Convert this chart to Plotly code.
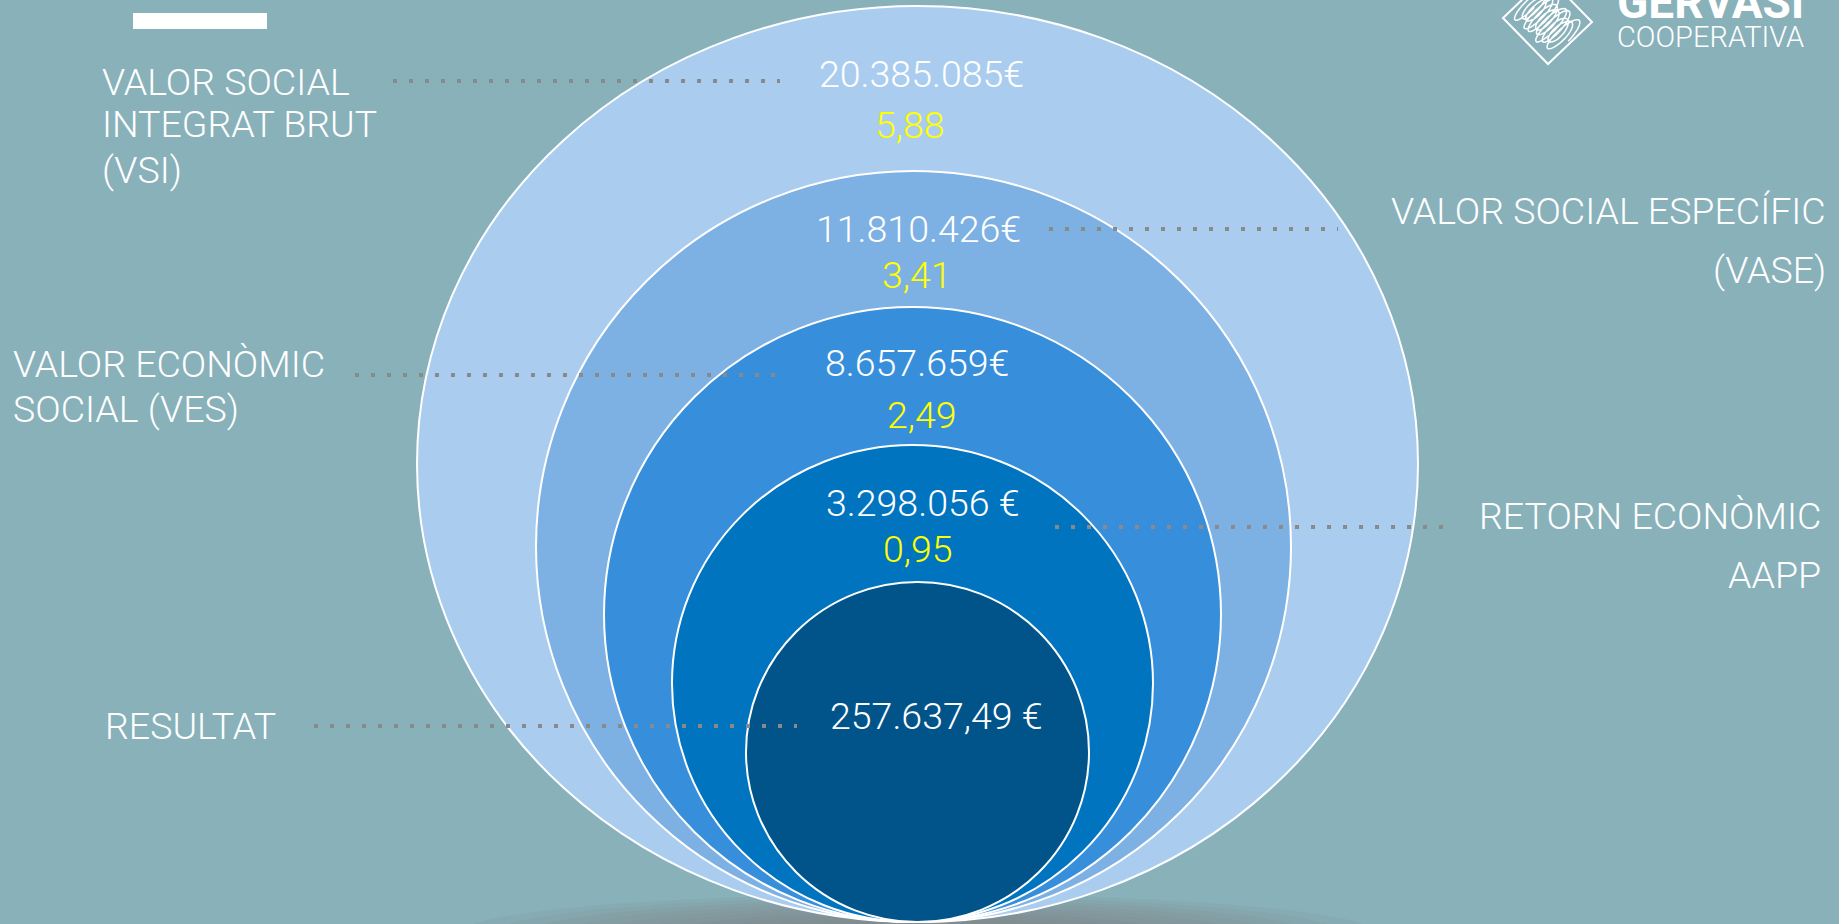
import math
import plotly.graph_objects as go

# ---------------- data ----------------
LEVELS = ["VSI", "VASE", "VES", "AAPP", "RESULTAT"]
VALUE_EUR = [20385085, 11810426, 8657659, 3298056, 257637.49]
VALUE_LABELS = ["20.385.085€", "11.810.426€", "8.657.659€", "3.298.056 €", "257.637,49 €"]
RATIOS = [5.88, 3.41, 2.49, 0.95]

LABEL_VSI = ["VALOR SOCIAL", "INTEGRAT BRUT", "(VSI)"]
LABEL_VASE = ["VALOR SOCIAL ESPECÍFIC", "(VASE)"]
LABEL_VES = ["VALOR ECONÒMIC", "SOCIAL (VES)"]
LABEL_AAPP = ["RETORN ECONÒMIC", "AAPP"]
LABEL_RES = ["RESULTAT"]

BRAND = ["GERVASI", "COOPERATIVA"]

# ---------------- layout / style constants ----------------
W, H = 1839, 924
BG = "#88B1BA"
RING_X0 = [417, 536, 604, 672, 746]
RING_X1 = [1418, 1291, 1221, 1153, 1089]
RING_Y0 = [6, 171, 307, 445, 582]
RING_Y1 = 922
RING_COLORS = ["#AACDEF", "#7DB0E3", "#378FDB", "#0174BF", "#01548A"]

VAL_POS = [(921, 73.5), (918, 228.5), (917, 362.5), (923, 502.5), (936, 716)]
RATIO_POS = [(910, 125), (917, 275), (922, 415), (918, 548.5)]
LEADERS = [(393, 780, 81), (1049, 1338, 229), (355, 776, 375), (1055, 1445, 527), (314, 797, 726)]

LABEL_BLOCKS = [
    (LABEL_VSI, 100, [82, 124, 170], "left"),
    (LABEL_VASE, 1828, [211, 270], "right"),
    (LABEL_VES, 11, [364, 409], "left"),
    (LABEL_AAPP, 1823, [516, 575], "right"),
    (LABEL_RES, 103, [726], "left"),
]

FONT = "Roboto"
FS = 37.5

fig = go.Figure()
fig.add_trace(go.Scatter(x=[0, W], y=[0, H], mode="markers",
                         marker=dict(opacity=0), hoverinfo="skip", showlegend=False))

shapes = []
# soft shadow under the rings
for k in range(10):
    hw = 460 - k * 35
    hh = 40 - k * 3
    shapes.append(dict(type="circle", xref="x", yref="y", layer="below",
                       x0=918 - hw, x1=918 + hw, y0=934 - hh, y1=934 + hh,
                       fillcolor="rgba(125,125,125,0.11)", line=dict(width=0)))
# nested rings
for x0, x1, y0, c in zip(RING_X0, RING_X1, RING_Y0, RING_COLORS):
    shapes.append(dict(type="circle", xref="x", yref="y", layer="below",
                       x0=x0, x1=x1, y0=y0, y1=RING_Y1,
                       fillcolor=c, line=dict(color="white", width=2)))
# dotted leader lines
for xa, xb, yy in LEADERS:
    shapes.append(dict(type="line", xref="x", yref="y", x0=xa, x1=xb, y0=yy, y1=yy,
                       line=dict(color="#8a8a8a", width=4, dash="4px,12px")))
# white bar top-left
shapes.append(dict(type="rect", xref="x", yref="y", x0=133, x1=267, y0=13, y1=29,
                   fillcolor="white", line=dict(width=0)))
# logo diamond + scribble
cx, cy = 1547, 20
shapes.append(dict(type="path", xref="x", yref="y",
                   path="M 1503 18 L 1548 64 L 1592 22 L 1547 -24 Z",
                   line=dict(color="white", width=2)))
pts = []
N = 400
for i in range(N + 1):
    t = i / N
    u = -24 + 48 * t + 6 * math.cos(2 * math.pi * 11 * t)
    v = 23 * math.sin(2 * math.pi * 11 * t) * (0.8 + 0.2 * math.cos(2 * math.pi * 3 * t))
    ang = math.radians(45)
    px = cx + u * math.cos(ang) - v * math.sin(ang)
    py = cy + u * math.sin(ang) + v * math.cos(ang)
    pts.append((px, py))
path = "M " + " L ".join(f"{p[0]:.1f} {p[1]:.1f}" for p in pts)
shapes.append(dict(type="path", xref="x", yref="y", path=path,
                   line=dict(color="white", width=1.5)))

ann = []
for lab, (x, y) in zip(VALUE_LABELS, VAL_POS):
    ann.append(dict(x=x, y=y, text=lab, xanchor="center", yanchor="middle",
                    font=dict(family=FONT, size=FS, color="white", weight=300)))
for r, (x, y) in zip(RATIOS, RATIO_POS):
    ann.append(dict(x=x, y=y, text=f"{r:.2f}".replace(".", ","), xanchor="center", yanchor="middle",
                    font=dict(family=FONT, size=FS, color="#FFFF00", weight=300)))
for lines, x, ys, al in LABEL_BLOCKS:
    for line, y in zip(lines, ys):
        ann.append(dict(x=x, y=y, text=line, xanchor=al, yanchor="middle",
                        font=dict(family=FONT, size=FS, color="white", weight=300)))
ann.append(dict(x=1615, y=2, text=BRAND[0], xanchor="left", yanchor="middle",
                font=dict(family=FONT, size=46, color="white", weight=700)))
ann.append(dict(x=1615, y=37, text=BRAND[1], xanchor="left", yanchor="middle",
                font=dict(family=FONT, size=29, color="white", weight=300)))
for a in ann:
    a.update(xref="x", yref="y", showarrow=False)

fig.update_layout(
    width=W, height=H, margin=dict(l=0, r=0, t=0, b=0),
    paper_bgcolor=BG, plot_bgcolor=BG,
    xaxis=dict(range=[0, W], visible=False, fixedrange=True),
    yaxis=dict(range=[H, 0], visible=False, fixedrange=True),
    shapes=shapes, annotations=ann, showlegend=False,
)
fig.write_html("out.html", config={"displayModeBar": False},
               post_script="document.body.style.margin='0';document.body.style.overflow='hidden';")
